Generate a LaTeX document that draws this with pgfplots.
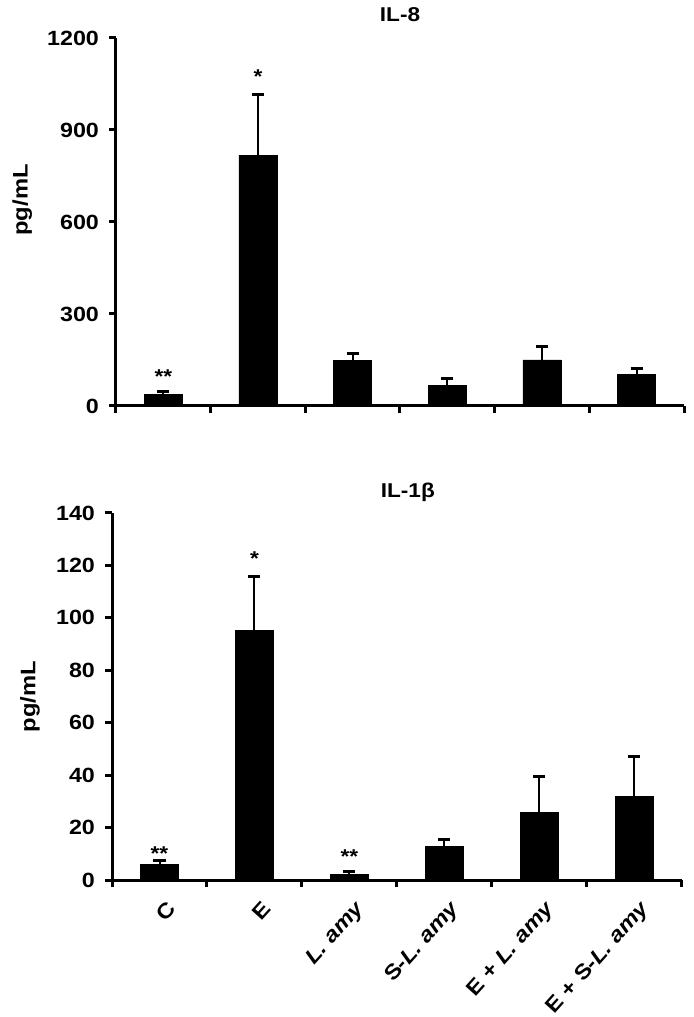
\documentclass[border=0pt]{standalone}
\usepackage{fontspec}
\setmainfont{Liberation Sans}[FakeStretch=1.13]
\usepackage{pgfplots}
\pgfplotsset{compat=1.18}
\pgfplotsset{
 mystyle/.style={
  scale only axis,
  anchor=south west,
  axis x line*=bottom, axis y line*=left,
  axis line style={line width=1.5pt, black},
  xmin=-0.5, xmax=5.5, ymin=0,
  xtick={0,...,5},
  minor xtick={-0.5,0.5,...,5.5},
  tick style={line width=1.5pt, black},
  major x tick style={draw=none},
  tick align=outside,
  major tick length=3.5pt, minor tick length=3.5pt,
  /pgf/number format/assume math mode=true,
  /pgf/number format/1000 sep={},
  scaled y ticks=false,
  yticklabel style={font=\fontsize{10.3}{12}\selectfont\bfseries, xshift=-1.5pt},
  ylabel style={font=\fontsize{10.5}{12}\selectfont\bfseries},
  ybar, bar width=19pt,
  clip=false,
 },
 myerr/.style={
  fill=black, draw=black,
  error bars/.cd, y dir=plus, y explicit,
  error bar style={line width=1pt, black},
  error mark options={rotate=90, line width=1.5pt, mark size=3pt, black},
 },
}
\begin{document}
\begin{tikzpicture}[font=\fontsize{10}{12}\selectfont\bfseries]
\begin{axis}[mystyle,
  at={(58pt,305.5pt)}, width=284pt, height=184pt,
  ymax=1200, ytick={0,300,600,900,1200},
  xticklabels={},
  title={IL-8}, title style={at={(axis description cs:0.5,1.032)}, anchor=center},
  ylabel={pg/mL}, ylabel style={at={(axis description cs:-0.165,0.56)}, anchor=center},
]
\addplot[myerr] coordinates {
 (0,38) +- (0,8)
 (1,818) +- (0,197)
 (2,148) +- (0,24)
 (3,66) +- (0,23)
 (4,150) +- (0,43)
 (5,104) +- (0,18)
};
\node[anchor=base, inner sep=0pt] at (axis cs:0,74) {**};
\node[anchor=base, inner sep=0pt] at (axis cs:1,1052) {*};
\end{axis}
\begin{axis}[mystyle,
  at={(56pt,68.5pt)}, width=285pt, height=183.5pt,
  ymax=140, ytick={0,20,...,140},
  xticklabels={C,E,\textit{L. amy},S-\textit{L. amy},E + \textit{L. amy},E + S-\textit{L. amy}},
  xticklabel style={font=\fontsize{10.5}{12}\selectfont\bfseries, xshift=6pt, yshift=-9pt, rotate=48, anchor=east, inner sep=0pt},
  title={IL-1β}, title style={at={(axis description cs:0.519,1.024)}, anchor=center},
  ylabel={pg/mL}, ylabel style={at={(axis description cs:-0.144,0.5)}, anchor=center},
]
\addplot[myerr] coordinates {
 (0,5.8) +- (0,1.6)
 (1,95.2) +- (0,20.5)
 (2,2.2) +- (0,1.0)
 (3,12.7) +- (0,2.6)
 (4,25.8) +- (0,13.6)
 (5,31.8) +- (0,15.2)
};
\node[anchor=base, inner sep=0pt] at (axis cs:0,7.5) {**};
\node[anchor=base, inner sep=0pt] at (axis cs:1,120.1) {*};
\node[anchor=base, inner sep=0pt] at (axis cs:2,6.4) {**};
\end{axis}
\pgfresetboundingbox
\path[use as bounding box] (0,0) rectangle (347pt,508.5pt);
\end{tikzpicture}
\end{document}
